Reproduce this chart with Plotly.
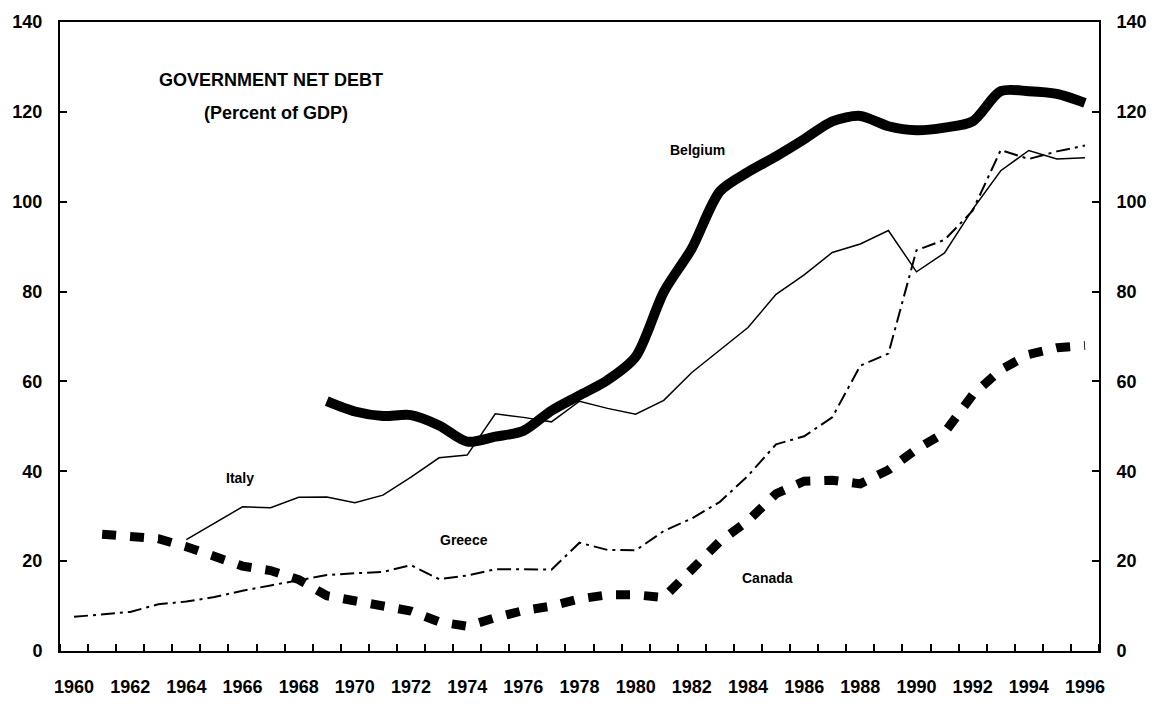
import plotly.graph_objects as go

years = list(range(1960, 1997))

# Government net debt, percent of GDP
belgium_years = list(range(1969, 1997))
belgium = [55.6, 53.3, 52.3, 52.5, 50.2, 46.6, 47.7, 49.0, 53.5, 56.9,
           60.3, 65.5, 79.9, 89.6, 102.3, 106.6, 110.1, 113.9, 117.9, 119.1,
           116.8, 115.9, 116.5, 117.9, 124.6, 124.6, 124.0, 122.0]

italy_years = list(range(1964, 1997))
italy = [24.8, 28.5, 32.1, 31.9, 34.2, 34.3, 33.0, 34.7, 38.7, 43.0,
         43.6, 52.8, 52.0, 51.0, 55.6, 54.0, 52.7, 55.8, 62.0, 67.0,
         72.0, 79.4, 83.7, 88.7, 90.6, 93.6, 84.4, 88.6, 98.3, 106.9,
         111.4, 109.5, 109.8]

greece_years = list(range(1960, 1997))
greece = [7.6, 8.2, 8.7, 10.4, 11.0, 12.0, 13.4, 14.6, 15.8, 16.9,
          17.3, 17.6, 19.1, 16.0, 16.8, 18.2, 18.2, 18.1, 24.1, 22.5,
          22.4, 26.7, 29.5, 33.2, 39.0, 46.0, 47.8, 52.0, 63.5, 66.2,
          89.2, 91.5, 98.0, 111.5, 109.5, 111.2, 112.5]

canada_years = list(range(1961, 1997))
canada = [26.0, 25.3, 25.0, 23.2, 20.8, 18.9, 17.9, 15.9, 12.3, 11.2,
          10.2, 8.9, 6.5, 5.5, 7.4, 9.0, 10.0, 11.6, 12.5, 12.5,
          11.9, 18.3, 24.4, 29.0, 35.0, 37.8, 38.0, 37.2, 40.3, 44.9,
          48.6, 57.0, 62.6, 66.0, 67.5, 68.0]

y_ticks = [0, 20, 40, 60, 80, 100, 120, 140]
x_label_years = list(range(1960, 1997, 2))
x_tick_marks = [y - 0.5 for y in range(1960, 1998)]

series_labels = [
    ("Italy", 1965.9, 38.5),
    ("Greece", 1973.9, 24.6),
    ("Belgium", 1982.2, 111.5),
    ("Canada", 1984.7, 16.2),
]
title_lines = [
    ("GOVERNMENT NET DEBT", 1967.0, 127.1),
    ("(Percent of GDP)", 1967.2, 119.7),
]

FONT = "Liberation Sans, Arial, sans-serif"

fig = go.Figure()

fig.add_trace(go.Scatter(
    x=greece_years, y=greece, mode="lines", name="Greece",
    line=dict(color="black", width=2, dash="14px,5px,3px,5px"),
))
fig.add_trace(go.Scatter(
    x=italy_years, y=italy, mode="lines", name="Italy",
    line=dict(color="black", width=1.5),
))
fig.add_trace(go.Scatter(
    x=canada_years, y=canada, mode="lines", name="Canada",
    line=dict(color="black", width=9, dash="14px,14px"),
))
fig.add_trace(go.Scatter(
    x=belgium_years, y=belgium, mode="lines", name="Belgium",
    line=dict(color="black", width=10, shape="spline", smoothing=0.8),
    yaxis="y2",
))

for text, xv, yv in series_labels:
    fig.add_annotation(x=xv, y=yv, xref="x", yref="y", text=text,
                       showarrow=False,
                       font=dict(family=FONT, size=14, color="black", weight=700))
for text, xv, yv in title_lines:
    fig.add_annotation(x=xv, y=yv, xref="x", yref="y", text=text,
                       showarrow=False,
                       font=dict(family=FONT, size=18, color="black", weight=700))

fig.update_layout(
    width=1166, height=709,
    margin=dict(l=60, r=67, t=22, b=58, autoexpand=False),
    paper_bgcolor="white", plot_bgcolor="white",
    showlegend=False,
    xaxis=dict(
        range=[1959.5, 1996.5], showgrid=False, zeroline=False, automargin=False,
        showline=True, linecolor="black", linewidth=2, mirror=True,
        tickmode="array", tickvals=x_label_years,
        ticktext=[str(v) for v in x_label_years], ticks="",
        ticklabelstandoff=18,
        tickfont=dict(family=FONT, size=18, color="black", weight=700),
        minor=dict(tickmode="array", tickvals=x_tick_marks, ticks="inside",
                   ticklen=7, tickwidth=1.5, tickcolor="black", showgrid=False),
    ),
    yaxis=dict(
        range=[0, 140], showgrid=False, zeroline=False, automargin=False,
        showline=True, linecolor="black", linewidth=2,
        tickmode="array", tickvals=y_ticks, ticks="inside", ticklen=7,
        tickwidth=1.5, tickcolor="black", ticklabelstandoff=12,
        tickfont=dict(family=FONT, size=18, color="black", weight=700),
    ),
    yaxis2=dict(
        range=[0, 140], overlaying="y", side="right", showgrid=False,
        zeroline=False, showline=True, linecolor="black", linewidth=2,
        automargin=False,
        tickmode="array", tickvals=y_ticks, ticks="inside", ticklen=7,
        tickwidth=1.5, tickcolor="black", ticklabelstandoff=12,
        tickfont=dict(family=FONT, size=18, color="black", weight=700),
    ),
)

fig.write_html("out.html",
               config={"displayModeBar": False},
               post_script="document.body.style.margin='0';document.body.style.overflow='hidden';")
